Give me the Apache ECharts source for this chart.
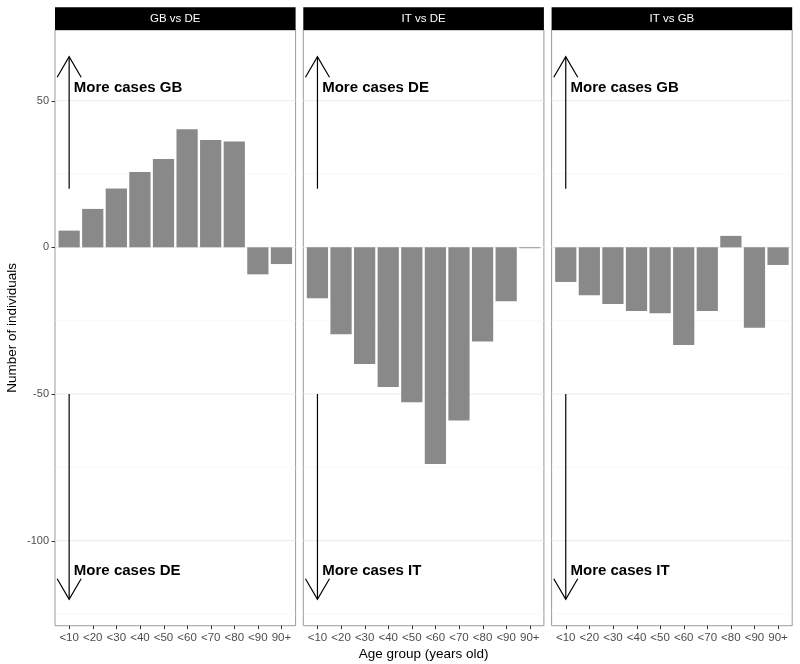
<!DOCTYPE html>
<html>
<head>
<meta charset="utf-8">
<script src="https://cdn.jsdelivr.net/npm/echarts@6/dist/echarts.min.js"></script>
<style>html,body{margin:0;padding:0;background:#fff;}#c{width:800px;height:664px;}</style>
</head>
<body>
<div id="c"></div>
<script>
const categories = ['<10','<20','<30','<40','<50','<60','<70','<80','<90','90+'];
const gbVsDe = [5.7, 13.1, 20.1, 25.7, 30.1, 40.3, 36.6, 36.1, -9.2, -5.7];
const itVsDe = [-17.4, -29.6, -39.8, -47.6, -52.8, -73.9, -59.0, -32.1, -18.4, -0.3];
const itVsGb = [-11.8, -16.3, -19.3, -21.7, -22.5, -33.3, -21.7, 3.9, -27.4, -6.0];
const panelTitles = ['GB vs DE', 'IT vs DE', 'IT vs GB'];
const upLabels = ['More cases GB', 'More cases DE', 'More cases GB'];
const downLabels = ['More cases DE', 'More cases IT', 'More cases IT'];
const yTicks = [-100, -50, 0, 50];
const yMinor = [-125, -75, -25, 25];
const upArrow = [1, 20, 65];
const downArrow = [1, -50, -120];
const labelPos = [[1.2, 54.5], [1.2, -110.3]];

const panelData = [gbVsDe, itVsDe, itVsGb];
const FONT = 'Liberation Sans, Arial, Helvetica, sans-serif';
const L0 = 55, W = 240.6, GAP = 7.7, TOP = 30, BOTTOM_PX = 625.7;
const lefts = [0,1,2].map(i => L0 + i * (W + GAP));
const xMin = 0.4, xMax = 10.6;
const barW = W / (xMax - xMin) * 0.9;
const tickVals = categories.map((c, i) => i + 1);
const BORDER = '#9a9a9a';

const grids = [], xAxes = [], yAxes = [], series = [], graphics = [];
lefts.forEach((l, i) => {
  grids.push({left: l, width: W, top: TOP, bottom: 664 - BOTTOM_PX, show: true,
    borderColor: BORDER, borderWidth: 1, backgroundColor: 'transparent', containLabel: false});
  xAxes.push({type: 'value', gridIndex: i, min: xMin, max: xMax, position: 'bottom',
    axisLine: {show: false, onZero: false}, splitLine: {show: false}, axisTick: {show: false},
    axisLabel: {show: true, customValues: tickVals, margin: 6, color: '#4d4d4d', fontSize: 11.5, fontFamily: FONT,
      formatter: v => categories[Math.round(v) - 1]}});
  yAxes.push({type: 'value', gridIndex: i, min: -129, max: 74.1, position: 'left',
    axisLine: {show: false, onZero: false}, splitLine: {show: false}, axisTick: {show: false},
    axisLabel: {show: i === 0, customValues: yTicks, margin: 6, color: '#4d4d4d', fontSize: 11, fontFamily: FONT}});
  // gridlines
  const gl = yMinor.map(v => [1, v, 0]).concat(yTicks.map(v => [1, v, 1]));
  series.push({type: 'custom', xAxisIndex: i, yAxisIndex: i, z: 0, silent: true, data: gl,
    renderItem: (params, api) => {
      const y = api.coord([1, api.value(1)])[1];
      const cs = params.coordSys;
      const major = api.value(2) === 1;
      return {type: 'line', shape: {x1: cs.x, y1: y, x2: cs.x + cs.width, y2: y},
        style: {stroke: major ? '#ebebeb' : '#f3f3f3', lineWidth: major ? 1 : 0.6}};
    }});
  // x tick marks
  series.push({type: 'custom', xAxisIndex: i, yAxisIndex: i, z: 5, silent: true, clip: false,
    data: tickVals.map(v => [v, 0]),
    renderItem: (params, api) => {
      const x = Math.round(api.coord([api.value(0), 0])[0]) + 0.5;
      const cs = params.coordSys;
      const yb = cs.y + cs.height;
      return {type: 'line', shape: {x1: x, y1: yb, x2: x, y2: yb + 3.5}, style: {stroke: '#333', lineWidth: 1}};
    }});
  if (i === 0) {
    series.push({type: 'custom', xAxisIndex: i, yAxisIndex: i, z: 5, silent: true, clip: false,
      data: yTicks.map(v => [1, v]),
      renderItem: (params, api) => {
        const y = Math.round(api.coord([1, api.value(1)])[1]) + 0.5;
        const cs = params.coordSys;
        return {type: 'line', shape: {x1: cs.x - 3.5, y1: y, x2: cs.x, y2: y}, style: {stroke: '#333', lineWidth: 1}};
      }});
  }
  series.push({type: 'bar', xAxisIndex: i, yAxisIndex: i, z: 2, barWidth: barW,
    itemStyle: {color: '#898989'}, data: panelData[i].map((v, k) => [k + 1, v])});
  // arrows
  series.push({type: 'custom', xAxisIndex: i, yAxisIndex: i, z: 3, silent: true, data: [upArrow, downArrow],
    renderItem: (params, api) => {
      const p0 = api.coord([api.value(0), api.value(1)]);
      const p1 = api.coord([api.value(0), api.value(2)]);
      const s = p1[1] < p0[1] ? 1 : -1;
      return {type: 'group', children: [
        {type: 'line', shape: {x1: p0[0], y1: p0[1], x2: p1[0], y2: p1[1]}, style: {stroke: '#000', lineWidth: 1.2}},
        {type: 'polyline', shape: {points: [[p1[0] - 12, p1[1] + s * 20.6], [p1[0], p1[1]], [p1[0] + 12, p1[1] + s * 20.6]]},
          style: {stroke: '#000', lineWidth: 1.2, fill: null}}
      ]};
    }});
  const labels = [upLabels[i], downLabels[i]];
  series.push({type: 'custom', xAxisIndex: i, yAxisIndex: i, z: 4, silent: true, data: labelPos,
    renderItem: (params, api) => {
      const p = api.coord([api.value(0), api.value(1)]);
      return {type: 'text', x: p[0], y: p[1], style: {text: labels[params.dataIndex], fill: '#000',
        font: 'bold 15px ' + FONT, textAlign: 'left', textVerticalAlign: 'middle'}};
    }});
  graphics.push({type: 'rect', shape: {x: l, y: 7.3, width: W, height: TOP - 7.3}, style: {fill: '#000'}, z: 10});
  graphics.push({type: 'text', x: l + W / 2, y: (7.3 + TOP) / 2, z: 11,
    style: {text: panelTitles[i], fill: '#fff', font: '11.5px ' + FONT, textAlign: 'center', textVerticalAlign: 'middle'}});
});
graphics.push({type: 'text', x: 12, y: (TOP + BOTTOM_PX) / 2, rotation: Math.PI / 2,
  style: {text: 'Number of individuals', fill: '#000', font: '13.5px ' + FONT, textAlign: 'center', textVerticalAlign: 'middle'}});
graphics.push({type: 'text', x: (L0 + lefts[2] + W) / 2, y: 654,
  style: {text: 'Age group (years old)', fill: '#000', font: '13.5px ' + FONT, textAlign: 'center', textVerticalAlign: 'middle'}});

const chart = echarts.init(document.getElementById('c'), null, {renderer: 'canvas'});
chart.setOption({animation: false, backgroundColor: '#fff', grid: grids, xAxis: xAxes, yAxis: yAxes,
  series: series, graphic: graphics});
</script>
</body>
</html>
